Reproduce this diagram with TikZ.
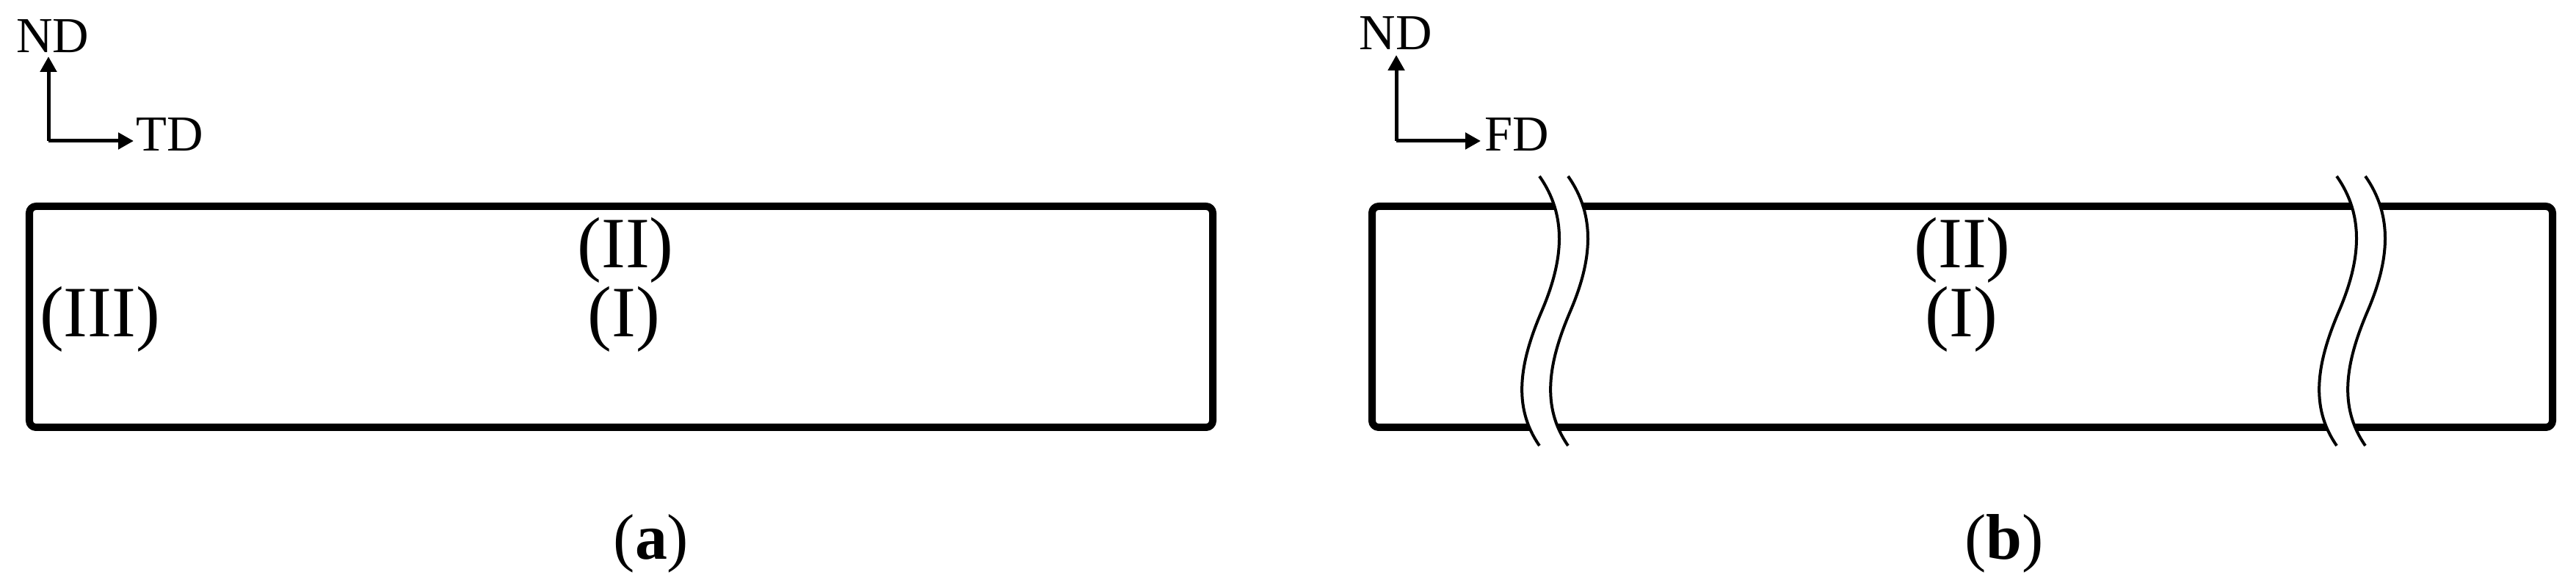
\documentclass[tikz,border=0pt]{standalone}
\usepackage{fontspec}
\setmainfont{Liberation Serif}
\usetikzlibrary{arrows.meta}

\begin{document}
\begin{tikzpicture}[
  line join=round,
  sample/.style={draw=black, line width=0.1cm, rounded corners=0.9mm},
  brk/.style={draw=black, line width=0.04cm},
  axis/.style={-{Triangle[length=2.1mm,width=2.2mm]}, line width=0.05cm},
  axlabel/.style={inner sep=0pt, font=\fontsize{19.5}{22}\selectfont},
  region/.style={inner sep=0pt, font=\fontsize{28}{32}\selectfont},
  caption/.style={inner sep=0pt, font=\fontsize{25}{28}\selectfont}
]

\useasboundingbox (0,0) rectangle (35.09,7.94);

% (a) full cross-section
\draw[sample] (0.40,2.12) rectangle (16.52,5.13);
\node[region] (IIa) at (8.52,4.53) {(II)};
\node[region] (Ia) at (8.50,3.59) {(I)};
\node[region] (IIIa) at (1.36,3.59) {(III)};

\coordinate (oa) at (0.66,6.02);
\node[axlabel, anchor=south] (nda) at (0.72,7.22) {ND};
\node[axlabel, anchor=west] (tda) at (1.85,6.11) {TD};
\draw[axis] (oa) -- ([yshift=-0.5mm]oa |- nda.south);
\draw[axis] (oa) -- ([xshift=-0.3mm]tda.west |- oa);

\node[caption] (capa) at (8.87,0.54) {(\textbf{a})};

% (b) section along FD, with break marks
\draw[sample] (18.69,2.12) rectangle (34.77,5.13);
\node[region] (IIb) at (26.73,4.53) {(II)};
\node[region] (Ib) at (26.72,3.59) {(I)};

\foreach \bx in {20.97,31.83}{
  \begin{scope}[shift={(\bx,5.54)}]
    \fill[white] (0,0) .. controls (0.38,-0.54) and (0.33,-1.14) .. (0.03,-1.84)
      .. controls (-0.27,-2.54) and (-0.37,-3.14) .. (0,-3.67)
      -- (0.39,-3.67) .. controls (0.02,-3.14) and (0.12,-2.54) .. (0.42,-1.84)
      .. controls (0.72,-1.14) and (0.77,-0.54) .. (0.39,0) -- cycle;
    \foreach \dx in {0,0.39}{
      \begin{scope}[xshift=\dx cm]
        \draw[brk] (0,0) .. controls (0.38,-0.54) and (0.33,-1.14) .. (0.03,-1.84)
          .. controls (-0.27,-2.54) and (-0.37,-3.14) .. (0,-3.67);
      \end{scope}
    }
  \end{scope}
}

\coordinate (ob) at (19.02,6.02);
\node[axlabel, anchor=south] (ndb) at (19.01,7.26) {ND};
\node[axlabel, anchor=west] (fdb) at (20.22,6.11) {FD};
\draw[axis] (ob) -- ([yshift=-0.7mm]ob |- ndb.south);
\draw[axis] (ob) -- ([xshift=-0.5mm]fdb.west |- ob);

\node[caption] (capb) at (27.30,0.54) {(\textbf{b})};

\end{tikzpicture}
\end{document}
